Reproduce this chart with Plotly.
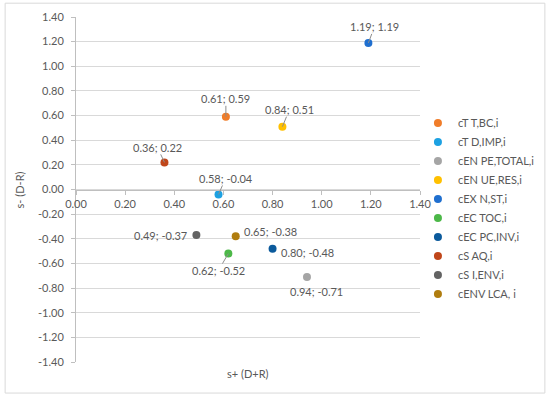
import plotly.graph_objects as go

names = ["cT T,BC,i", "cT D,IMP,i", "cEN PE,TOTAL,i", "cEN UE,RES,i", "cEX N,ST,i",
         "cEC TOC,i", "cEC PC,INV,i", "cS AQ,i", "cS I,ENV,i", "cENV LCA, i"]
s_plus = [0.61, 0.58, 0.94, 0.84, 1.19, 0.62, 0.80, 0.36, 0.49, 0.65]
s_minus = [0.59, -0.04, -0.71, 0.51, 1.19, -0.52, -0.48, 0.22, -0.37, -0.38]
colors = ["#F07D2A", "#1DA1E2", "#A5A5A5", "#FFC000", "#1F6FCF",
          "#4CB848", "#0B5A9C", "#C0461A", "#636363", "#B07D0F"]

x_ticks = [0.0, 0.2, 0.4, 0.6, 0.8, 1.0, 1.2, 1.4]
y_ticks = [-1.4, -1.2, -1.0, -0.8, -0.6, -0.4, -0.2, 0.0, 0.2, 0.4, 0.6, 0.8, 1.0, 1.2, 1.4]

# label placement: (arrow?, ax, ay, xanchor, xshift, yshift)
label_style = [
    (True, 0, -18, "center", 0, 0),
    (True, 7, -16, "center", 0, 0),
    (False, 0, 0, "center", 10, -15),
    (True, 7, -17, "center", 0, 0),
    (True, 6, -16, "center", 0, 0),
    (True, -10, 17, "center", 0, 0),
    (False, 0, 0, "left", 6, -4),
    (True, -7, -15, "center", 0, 0),
    (False, 0, 0, "right", -7, 0),
    (False, 0, 0, "left", 6, 5),
]

font_family = "Lato, Open Sans, sans-serif"
txt_color = "#595959"

fig = go.Figure()
for n, x, y, c in zip(names, s_plus, s_minus, colors):
    fig.add_trace(go.Scatter(x=[x], y=[y], mode="markers", name=n,
                             marker=dict(color=c, size=8)))

annotations = []
for x, y, st in zip(s_plus, s_minus, label_style):
    arrow, ax, ay, xa, xs, ys = st
    text = f"{x:.2f}; {y:.2f}"
    if arrow:
        annotations.append(dict(x=x, y=y, xref="x", yref="y", text=text, showarrow=True,
                                arrowhead=0, arrowwidth=1, arrowcolor="#8c8c8c",
                                ax=ax, ay=ay, standoff=0, borderpad=0,
                                font=dict(size=11, color=txt_color, family=font_family)))
    else:
        annotations.append(dict(x=x, y=y, xref="x", yref="y", text=text, showarrow=False,
                                xanchor=xa, yanchor="middle", xshift=xs, yshift=ys,
                                font=dict(size=11, color=txt_color, family=font_family)))

annotations.append(dict(x=0.5, y=-0.032, xref="paper", yref="paper", text="s+ (D+R)",
                        showarrow=False, xanchor="center", yanchor="middle",
                        font=dict(size=11, color=txt_color, family=font_family)))
annotations.append(dict(x=-0.163, y=0.5, xref="paper", yref="paper", text="s- (D-R)",
                        showarrow=False, xanchor="center", yanchor="middle", textangle=-90,
                        font=dict(size=11, color=txt_color, family=font_family)))

fig.update_layout(
    width=550, height=399,
    margin=dict(l=76, r=130, t=17, b=37, autoexpand=False),
    paper_bgcolor="white", plot_bgcolor="white",
    font=dict(family=font_family, size=11, color=txt_color),
    showlegend=True,
    legend=dict(x=0.994, y=0.735, xanchor="left", yanchor="top",
                font=dict(size=11, color=txt_color, family=font_family),
                itemwidth=30, tracegroupgap=0, bgcolor="rgba(0,0,0,0)"),
    annotations=annotations,
    shapes=[dict(type="rect", xref="paper", yref="paper", x0=-0.206, x1=1.363,
                 y0=-0.09, y1=1.04, line=dict(color="#d9d9d9", width=1), layer="above")],
    xaxis=dict(range=[0, 1.4], tickvals=x_ticks, ticktext=[f"{v:.2f}" for v in x_ticks],
               showgrid=False, zeroline=False, showline=True, linecolor="#bfbfbf",
               ticks="outside", ticklen=4, tickcolor="#bfbfbf",
               anchor="free", position=0.5, tickfont=dict(size=11, color=txt_color)),
    yaxis=dict(range=[-1.4, 1.4], tickvals=y_ticks, ticktext=[f"{v:.2f}" for v in y_ticks],
               showgrid=True, gridcolor="#d9d9d9", zeroline=False, showline=True,
               linecolor="#bfbfbf", ticks="outside", ticklen=4, tickcolor="#bfbfbf",
               ticklabelstandoff=5,
               tickfont=dict(size=11, color=txt_color)),
)

fig.write_html("out.html", config={"displayModeBar": False},
               post_script="document.body.style.margin='0';")
